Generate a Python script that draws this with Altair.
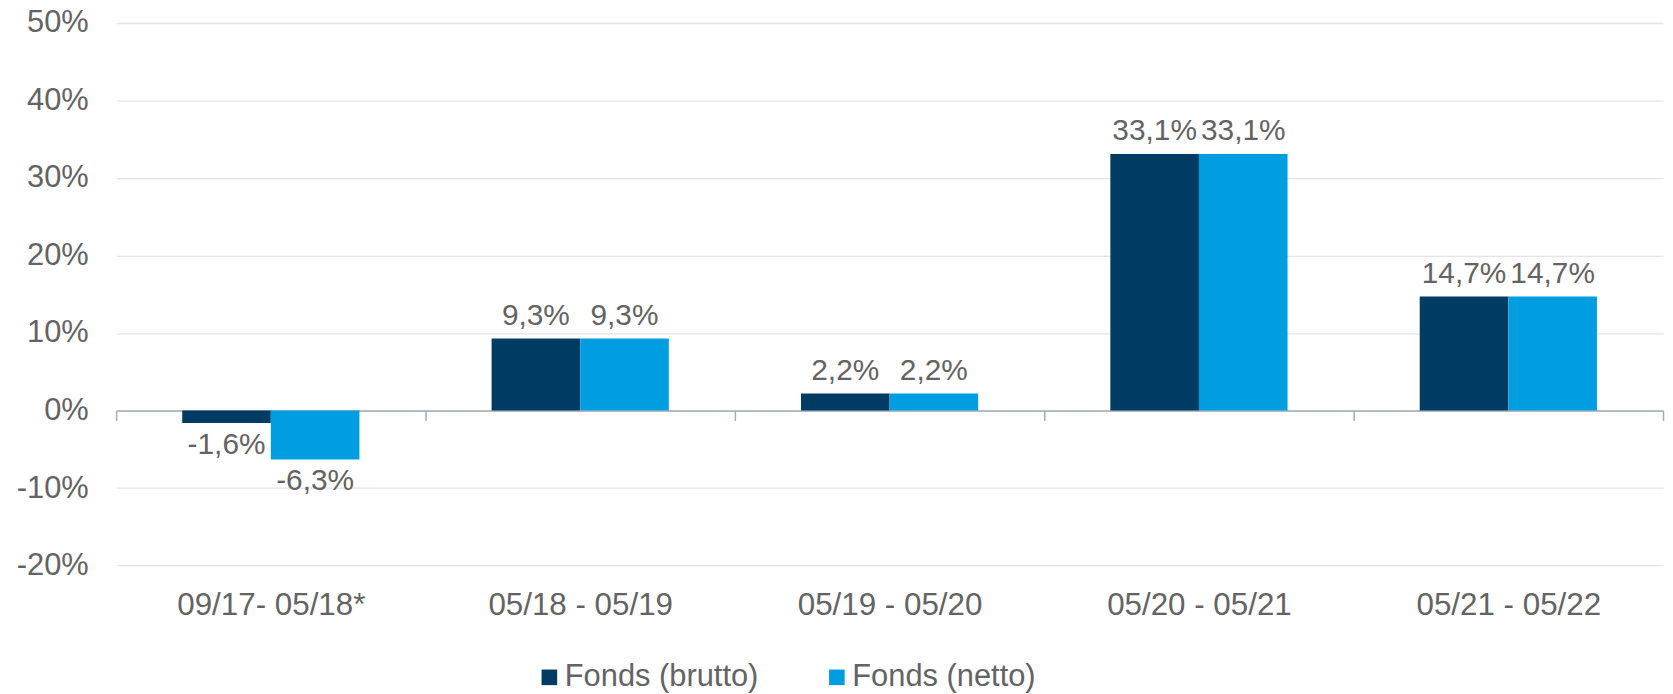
import altair as alt
import pandas as pd

periods = ["09/17- 05/18*", "05/18 - 05/19", "05/19 - 05/20", "05/20 - 05/21", "05/21 - 05/22"]
brutto = [-1.6, 9.3, 2.2, 33.1, 14.7]
netto = [-6.3, 9.3, 2.2, 33.1, 14.7]
series = ["Fonds (brutto)", "Fonds (netto)"]
colors = ["#003B64", "#009EE0"]
y_ticks = [-20, -10, 0, 10, 20, 30, 40, 50]

rows = []
for p, b, n in zip(periods, brutto, netto):
    rows.append({"period": p, "series": series[0], "value": b})
    rows.append({"period": p, "series": series[1], "value": n})
df = pd.DataFrame(rows)

FONT = "Liberation Sans"
GRAY = "#636363"
W, H = 1555, 545.4
ZERO_FROM_BOTTOM = H * 20 / 70

x_enc = alt.X("period:N", sort=periods,
              scale=alt.Scale(paddingInner=0, paddingOuter=0),
              axis=alt.Axis(title=None, orient="bottom", offset=-ZERO_FROM_BOTTOM,
                            domain=True, domainColor="#A3ABB9", domainWidth=1.5,
                            ticks=True, tickBand="extent", tickSize=10,
                            tickColor="#A3ABB9", tickWidth=1.5,
                            labelPadding=ZERO_FROM_BOTTOM + 14,
                            labelFontSize=31.5, labelColor=GRAY, labelLimit=0,
                            labelFont=FONT, grid=False, labelAngle=0))
xoff = alt.XOffset("series:N", sort=series,
                   scale=alt.Scale(paddingInner=0, paddingOuter=0.746))
y_enc = alt.Y("value:Q", scale=alt.Scale(domain=[-20, 50], nice=False, zero=True),
              axis=alt.Axis(title=None, values=y_ticks, domain=False, ticks=False,
                            tickSize=0, labelPadding=28, labelFontSize=31,
                            labelColor=GRAY, labelFont=FONT,
                            labelExpr="datum.value + '%'",
                            gridColor="#E4E4E4", gridWidth=1.3))

base = alt.Chart(df)

bars = base.mark_bar().encode(
    x=x_enc,
    xOffset=xoff,
    y=y_enc,
    color=alt.Color("series:N", sort=series,
                    scale=alt.Scale(domain=series, range=colors),
                    legend=alt.Legend(title=None, orient="none", direction="horizontal",
                                      columns=2, legendX=420, legendY=642,
                                      symbolType="square", symbolSize=246,
                                      symbolStrokeWidth=0, symbolOpacity=1,
                                      labelFontSize=31, labelColor=GRAY,
                                      labelFont=FONT, labelOffset=0, labelLimit=0,
                                      columnPadding=63)),
)

label_expr = ("(datum.value < 0 ? '-' : '') + "
              "replace(format(abs(datum.value), '.1f'), '.', ',') + '%'")

pos_labels = base.transform_filter("datum.value >= 0").transform_calculate(
    lab=label_expr
).mark_text(fontSize=30, font=FONT, color=GRAY, baseline="alphabetic", dy=-14).encode(
    x=alt.X("period:N", sort=periods), xOffset=xoff, y=alt.Y("value:Q"), text="lab:N"
)

neg_labels = base.transform_filter("datum.value < 0").transform_calculate(
    lab=label_expr
).mark_text(fontSize=30, font=FONT, color=GRAY, baseline="alphabetic", dy=31).encode(
    x=alt.X("period:N", sort=periods), xOffset=xoff, y=alt.Y("value:Q"), text="lab:N"
)

chart = alt.layer(bars, pos_labels, neg_labels).properties(
    width=W, height=H,
    autosize=alt.AutoSizeParams(type="none"),
    padding={"left": 108.7, "top": 13.3, "right": 2, "bottom": 127},
).configure_view(stroke=None).configure_legend(padding=0)

chart.save("out.html", embed_options={"renderer": "svg", "actions": False})
